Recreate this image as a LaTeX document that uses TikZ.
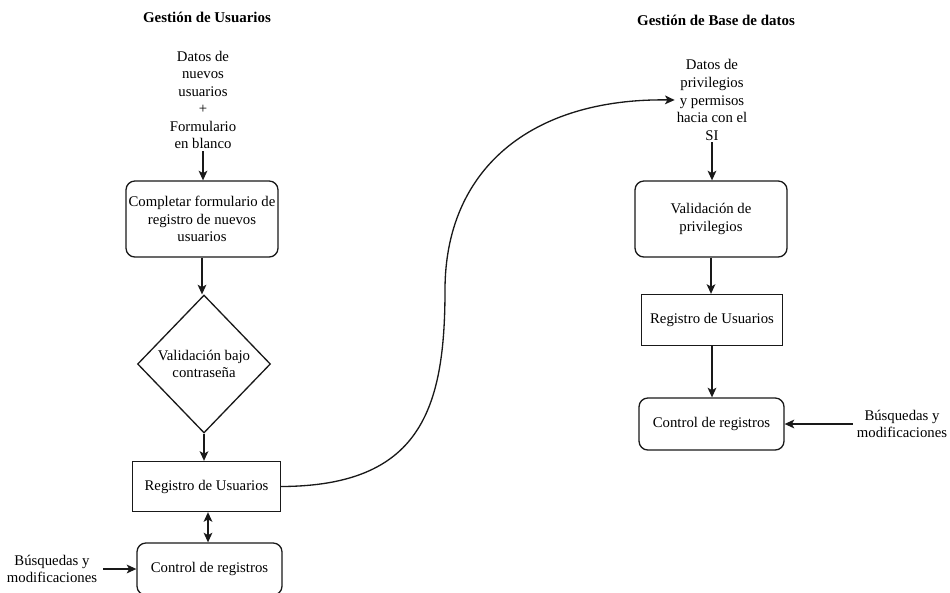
\documentclass[tikz,border=0pt]{standalone}
\usepackage{fontspec}
\setmainfont{Liberation Serif}
\usetikzlibrary{shapes.geometric,arrows.meta}

\begin{document}
\begin{tikzpicture}[x=0.02cm,y=-0.02cm,
  font=\fontsize{8.4}{10}\selectfont,
  every node/.style={align=center,text=black},
  caja/.style={draw=black!90,line width=0.75pt,rectangle,inner sep=1pt},
  cajar/.style={caja,rounded corners=5pt},
  rombo/.style={draw=black!90,line width=0.75pt,diamond,inner sep=0pt,minimum width=2.66cm,minimum height=2.76cm},
  punta/.tip={Stealth[length=5.5pt,width=5pt,inset=1.4pt]},
  flecha/.style={draw=black!90,line width=0.75pt,-punta},
  titulo/.style={font=\fontsize{8.5}{10}\selectfont\bfseries}]
\useasboundingbox (0,0) rectangle (950,592);

% Gestion de Usuarios
\node[titulo] (tit1) at (207,17) {Gestión de Usuarios};
\node[inner sep=1pt] (in1) at (203,100) {Datos de\\nuevos\\usuarios\\+\\Formulario\\en blanco};
\node[cajar,minimum width=3.04cm,minimum height=1.52cm] (comp) at (202,219) {Completar formulario de\\registro de nuevos\\usuarios};
\node[rombo] (val1) at (204,364) {Validación bajo\\contraseña};
\node[caja,minimum width=2.96cm,minimum height=1.0cm] (reg1) at (206.5,486.5) {Registro de Usuarios};
\node[cajar,minimum width=2.9cm,minimum height=1.04cm] (ctrl1) at (209.5,569) {Control de registros};
\node[inner sep=1pt] (bus1) at (52,569) {Búsquedas y\\modificaciones};

% Gestion de Base de datos
\node[titulo] (tit2) at (716,20) {Gestión de Base de datos};
\node[inner sep=1pt] (in2) at (712,100) {Datos de\\privilegios\\y permisos\\hacia con el\\SI};
\node[cajar,minimum width=3.04cm,minimum height=1.52cm] (val2) at (711,219) {Validación de\\privilegios};
\node[caja,minimum width=2.82cm,minimum height=1.02cm] (reg2) at (712,320) {Registro de Usuarios};
\node[cajar,minimum width=2.9cm,minimum height=1.04cm] (ctrl2) at (711.5,424) {Control de registros};
\node[inner sep=1pt] (bus2) at (902,424) {Búsquedas y\\modificaciones};

\coordinate (medio) at (445,290);

% flechas
\draw[flecha] (in1.south) -- (in1.south |- comp.north);
\draw[flecha] (comp.south) -- (comp.south |- val1.north);
\draw[flecha] (val1.south) -- (val1.south |- reg1.north);
\draw[flecha,punta-punta] ([xshift=0.03cm]reg1.south) -- ([xshift=0.03cm]reg1.south |- ctrl1.north);
\draw[flecha] ([xshift=0.08cm]bus1.east) -- (ctrl1.west);
\draw[flecha] (reg1.east) .. controls (420,486) and (445,410) .. (medio)
  .. controls (445,170) and (530,98) .. (in2.west);
\draw[flecha] (in2.south) -- (in2.south |- val2.north);
\draw[flecha] (val2.south) -- (val2.south |- reg2.north);
\draw[flecha] (reg2.south) -- (reg2.south |- ctrl2.north);
\draw[flecha] ([xshift=-0.04cm]bus2.west) -- (ctrl2.east);
\end{tikzpicture}
\end{document}
